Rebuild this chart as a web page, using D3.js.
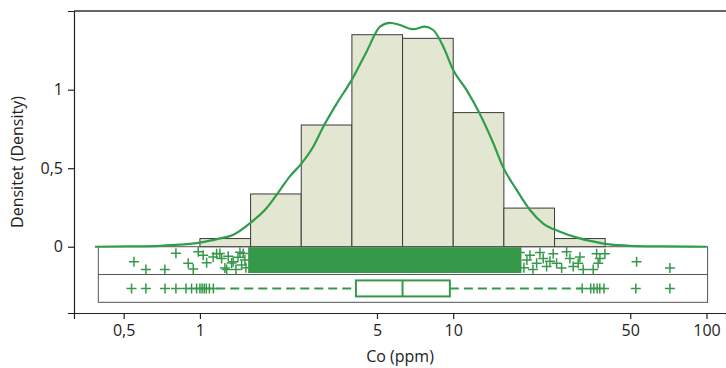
<!DOCTYPE html>
<html>
<head>
<meta charset="utf-8">
<script src="https://cdn.jsdelivr.net/npm/d3@7"></script>
<style>
  body { margin: 0; background: #fff; }
  svg text { font-family: "Open Sans", sans-serif; fill: #222; }
</style>
</head>
<body>
<div id="chart"></div>
<script>
// histogram bins (ppm, log10 spacing 0.2) and density on log10 scale
const binEdges = [1, 1.585, 2.512, 3.981, 6.31, 10, 15.85, 25.12, 39.81];
const binDensity = [0.052, 0.336, 0.775, 1.35, 1.327, 0.854, 0.246, 0.052];

// kernel density curve
const kdeX = [0.385, 0.53, 0.695, 0.834, 1, 1.2, 1.35, 1.574, 1.83, 2.07, 2.26, 2.52, 2.8, 3.07,
  3.47, 3.97, 4.55, 5.14, 5.62, 6.17, 6.95, 7.73, 8.34, 9.14, 10, 11.3, 12.7, 14.4, 15.7, 17.8,
  20.1, 22.6, 26.4, 31.6, 37.9, 41.5, 49.8, 65.5, 100];
const kdeY = [0, 0.002, 0.006, 0.013, 0.026, 0.053, 0.075, 0.149, 0.245, 0.361, 0.446, 0.531,
  0.637, 0.764, 0.912, 1.061, 1.242, 1.401, 1.426, 1.412, 1.385, 1.401, 1.38, 1.274, 1.125, 0.997,
  0.85, 0.659, 0.51, 0.362, 0.234, 0.149, 0.096, 0.053, 0.025, 0.015, 0.006, 0.002, 0];

// individual samples visible at the tails of the jitter strip (value, jitter 0..1)
const tailValues = [0.549, 0.612, 0.727, 0.804, 0.899, 0.941, 0.985, 1.03, 1.063, 1.128, 1.164,
  1.199, 1.218, 1.255, 1.275, 1.293, 1.334, 1.353, 1.387, 1.413, 1.439, 1.461, 1.482, 1.505, 1.519,
  18.34, 19.02, 19.54, 20.09, 20.64, 21.35, 22.0, 22.67, 23.37, 24.09, 24.82, 25.59, 26.79, 28.04,
  28.89, 29.77, 31.15, 31.64, 32.6, 35.7, 36.83, 37.36, 37.94, 39.71, 52.97, 71.7];
const tailJitter = [0.56, 1.0, 1.0, 0.08, 0.65, 0.97, 0, 0.2, 0.62, 0.3, 0.11, 0.1, 0.38, 0.92,
  1.0, 0.26, 0.63, 0.56, 1.0, 0.31, 0.03, 0.74, 0.1, 0.47, 0.9,
  0.04, 0.9, 0.47, 0.2, 1.0, 0.65, 0.04, 0.38, 0.83, 0.53, 0.11, 0.65, 0.92, 0, 0.38, 0.83, 0.65,
  0.3, 1.0, 1.0, 0.11, 0.65, 0.38, 0.11, 0.56, 0.92];
// overplotted core of the jitter strip (ppm)
const coreRange = [1.55, 18.6];

// boxplot
const boxStats = { whiskerLo: 1.16, q1: 4.13, median: 6.31, q3: 9.7, whiskerHi: 32.3 };
const outliers = [0.537, 0.612, 0.728, 0.804, 0.881, 0.927, 0.97, 1.0, 1.02, 1.04, 1.06, 1.09, 1.13,
  32.3, 34.9, 35.9, 37.0, 37.9, 39.4, 52.6, 71.7];
const stripRange = [0.397, 101];

const xTicks = [0.5, 1, 5, 10, 50, 100];
const xTickLabels = ["0,5", "1", "5", "10", "50", "100"];
const yTicks = [0, 0.5, 1];
const yTickLabels = ["0", "0,5", "1"];

const width = 726, height = 368;
const green = "#36994a";

const svg = d3.select("#chart").append("svg")
  .attr("width", width)
  .attr("height", height);

const x = d3.scaleLog().domain([0.3183, 119.4]).range([74, 726]);
const y = d3.scaleLinear().domain([-0.422, 1.501]).range([313, 11]);

// histogram
svg.append("g").selectAll("rect")
  .data(binDensity)
  .join("rect")
  .attr("x", (d, i) => x(binEdges[i]))
  .attr("y", d => y(d))
  .attr("width", (d, i) => x(binEdges[i + 1]) - x(binEdges[i]))
  .attr("height", d => y(0) - y(d))
  .attr("fill", "#e3e7d1")
  .attr("stroke", "#3a3a3a")
  .attr("stroke-width", 1);

// strips below zero
const stripTop = y(0);
const stripH = 27.8;
const fx0 = x(stripRange[0]), fx1 = x(stripRange[1]);
const frame = svg.append("g").attr("fill", "none").attr("stroke", "#555").attr("stroke-width", 1);
frame.append("rect").attr("x", fx0).attr("y", stripTop)
  .attr("width", fx1 - fx0).attr("height", stripH * 2);
frame.append("line").attr("x1", fx0).attr("x2", fx1)
  .attr("y1", stripTop + stripH).attr("y2", stripTop + stripH);

const plus = "M-5,0H5M0,-5V5";

// jitter strip
svg.append("rect")
  .attr("x", x(coreRange[0]))
  .attr("y", stripTop + 0.5)
  .attr("width", x(coreRange[1]) - x(coreRange[0]))
  .attr("height", stripH - 2)
  .attr("fill", green);

svg.append("g").selectAll("path")
  .data(tailValues)
  .join("path")
  .attr("d", plus)
  .attr("transform", (d, i) => `translate(${x(d)},${stripTop + 5 + tailJitter[i] * (stripH - 10)})`)
  .attr("stroke", green)
  .attr("stroke-width", 1.5)
  .attr("fill", "none");

// boxplot strip
const by = stripTop + stripH * 1.5;
const box = svg.append("g").attr("stroke", green).attr("stroke-width", 2);
box.append("line")
  .attr("x1", x(boxStats.whiskerLo)).attr("x2", x(boxStats.q1))
  .attr("y1", by).attr("y2", by)
  .attr("stroke-dasharray", "9,5");
box.append("line")
  .attr("x1", x(boxStats.q3)).attr("x2", x(boxStats.whiskerHi))
  .attr("y1", by).attr("y2", by)
  .attr("stroke-dasharray", "9,5");
box.append("rect")
  .attr("x", x(boxStats.q1)).attr("y", by - 8)
  .attr("width", x(boxStats.q3) - x(boxStats.q1)).attr("height", 16)
  .attr("fill", "#fff");
box.append("line")
  .attr("x1", x(boxStats.median)).attr("x2", x(boxStats.median))
  .attr("y1", by - 8).attr("y2", by + 8);

svg.append("g").selectAll("path")
  .data(outliers)
  .join("path")
  .attr("d", plus)
  .attr("transform", d => `translate(${x(d)},${by})`)
  .attr("stroke", green)
  .attr("stroke-width", 1.5)
  .attr("fill", "none");

// density curve
svg.append("path")
  .datum(kdeX.map((v, i) => [v, kdeY[i]]))
  .attr("fill", "none")
  .attr("stroke", "#2f9e4c")
  .attr("stroke-width", 2.2)
  .attr("d", d3.line().x(d => x(d[0])).y(d => y(d[1])).curve(d3.curveMonotoneX));

// axes
const xAxis = svg.append("g")
  .attr("transform", `translate(0,313)`)
  .call(d3.axisBottom(x).tickValues(xTicks).tickFormat((d, i) => xTickLabels[i]).tickSizeOuter(0).tickSize(6).tickPadding(6));
const yAxis = svg.append("g")
  .attr("transform", `translate(74,0)`)
  .call(d3.axisLeft(y).tickValues(yTicks).tickFormat((d, i) => yTickLabels[i]).tickSizeOuter(0).tickSize(6).tickPadding(5));
[xAxis, yAxis].forEach(a => {
  a.select(".domain").attr("stroke", "#222").attr("stroke-width", 1.2);
  a.selectAll(".tick line").attr("stroke", "#222").attr("stroke-width", 1.2);
  a.selectAll(".tick text").style("font-size", "16px").style("font-family", "'Open Sans', sans-serif").attr("fill", "#222");
});

// top border
svg.append("line")
  .attr("x1", 74).attr("x2", width)
  .attr("y1", 11).attr("y2", 11)
  .attr("stroke", "#333").attr("stroke-width", 1.5);

svg.append("text")
  .attr("x", 400).attr("y", 362)
  .attr("text-anchor", "middle")
  .style("font-size", "16px")
  .text("Co (ppm)");

svg.append("text")
  .attr("transform", "translate(23,162) rotate(-90)")
  .attr("text-anchor", "middle")
  .style("font-size", "16px")
  .text("Densitet (Density)");
</script>
</body>
</html>
